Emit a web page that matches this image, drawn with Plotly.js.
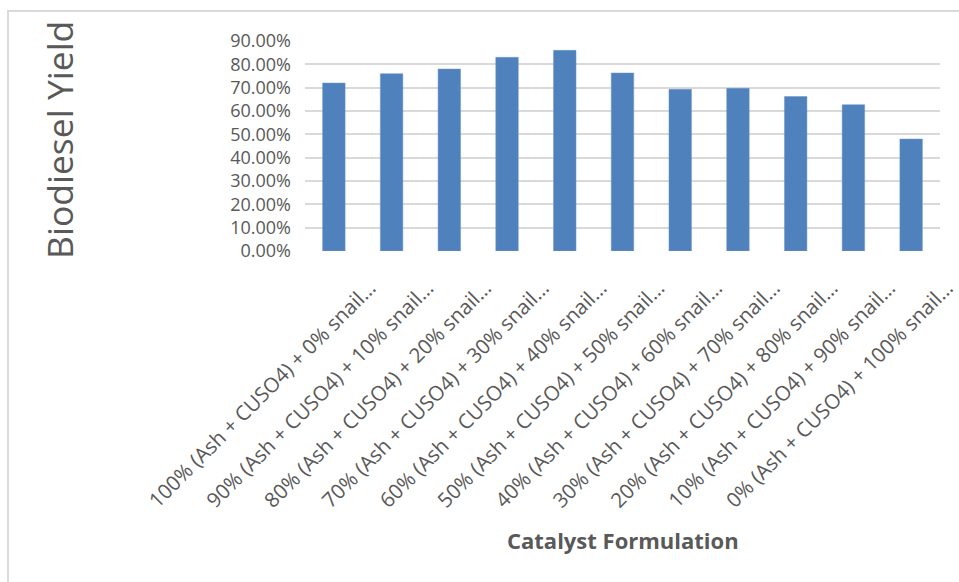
<!DOCTYPE html>
<html>
<head>
<meta charset="utf-8">
<script src="https://cdn.plot.ly/plotly-3.0.1.min.js"></script>
<style>
  html, body { margin: 0; padding: 0; background: #ffffff; }
  #wrap { position: relative; width: 959px; height: 582px; overflow: hidden; }
  #frame {
    position: absolute; left: 7px; top: 10px; width: 1000px; height: 700px;
    border-left: 2px solid #dadada; border-top: 2px solid #dadada;
    pointer-events: none;
  }
  #chart { position: absolute; left: 0; top: 0; width: 959px; height: 582px; }
</style>
</head>
<body>
<div id="wrap">
  <div id="chart"></div>
  <div id="frame"></div>
</div>
<script>
// Catalyst blends: share of (Ash + CUSO4) vs snail shell
const categories = [
  "100% (Ash + CUSO4) + 0% snail…",
  "90% (Ash + CUSO4) + 10% snail…",
  "80% (Ash + CUSO4) + 20% snail…",
  "70% (Ash + CUSO4) + 30% snail…",
  "60% (Ash + CUSO4) + 40% snail…",
  "50% (Ash + CUSO4) + 50% snail…",
  "40% (Ash + CUSO4) + 60% snail…",
  "30% (Ash + CUSO4) + 70% snail…",
  "20% (Ash + CUSO4) + 80% snail…",
  "10% (Ash + CUSO4) + 90% snail…",
  "0% (Ash + CUSO4) + 100% snail…"
];

// Biodiesel yield (fraction) for each blend
const yields = [0.72, 0.76, 0.78, 0.83, 0.86, 0.763, 0.693, 0.697, 0.662, 0.627, 0.48];

// Y axis ticks
const yTickVals = [0, 0.1, 0.2, 0.3, 0.4, 0.5, 0.6, 0.7, 0.8, 0.9];

const grey = "#595959";
const fontFamily = "'Open Sans', 'Liberation Sans', sans-serif";

const trace = {
  type: "bar",
  x: categories,
  y: yields,
  marker: { color: "#4f81bd", line: { color: "#6f98c9", width: 0.5 } },
  hoverinfo: "x+y"
};

const layout = {
  width: 959,
  height: 582,
  margin: { l: 305, r: 19, t: 41, b: 331, pad: 0 },
  paper_bgcolor: "rgba(0,0,0,0)",
  plot_bgcolor: "rgba(0,0,0,0)",
  bargap: 0.61,
  showlegend: false,
  font: { family: fontFamily, color: grey },
  xaxis: {
    type: "category",
    tickangle: -45,
    tickfont: { family: fontFamily, size: 20.5, color: grey },
    ticks: "",
    ticklabelshift: 36,
    ticklabelstandoff: 20,
    showgrid: false,
    showline: false,
    zeroline: false,
    automargin: false
  },
  yaxis: {
    range: [0, 0.9],
    tickvals: yTickVals,
    tickformat: ".2%",
    tickfont: { family: fontFamily, size: 18, color: grey },
    ticks: "",
    ticklabelstandoff: 13,
    showgrid: true,
    gridcolor: "#d9d9d9",
    gridwidth: 2,
    zeroline: false,
    showline: false,
    automargin: false
  },
  annotations: [
    {
      text: "Biodiesel Yield",
      xref: "paper", yref: "paper",
      x: (59 - 305) / 635, y: (251 - 140) / 210,
      xanchor: "center", yanchor: "middle",
      textangle: -90,
      showarrow: false,
      font: { family: fontFamily, size: 35.5, color: grey }
    },
    {
      text: "<b>Catalyst Formulation</b>",
      xref: "paper", yref: "paper",
      x: 0.5, y: (251 - 540) / 210,
      xanchor: "center", yanchor: "middle",
      showarrow: false,
      font: { family: fontFamily, size: 22, color: grey }
    }
  ]
};

Plotly.newPlot("chart", [trace], layout, { displayModeBar: false, staticPlot: true });
</script>
</body>
</html>
